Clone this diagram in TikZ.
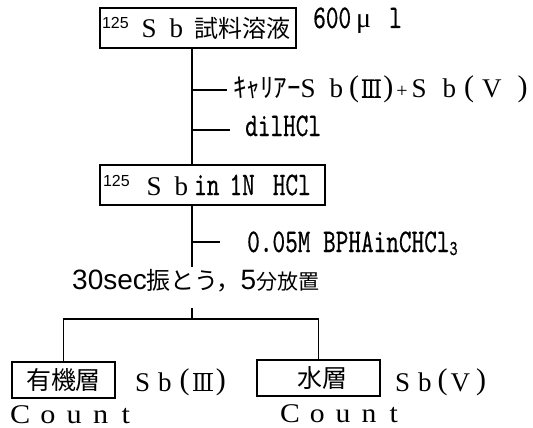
\documentclass[tikz,border=0pt]{standalone}
\usepackage{fontspec}
\setmainfont{Liberation Serif}
\setsansfont{Liberation Sans}
\newfontfamily\cjk{Noto Sans CJK JP}
\newfontfamily\tw[FakeBold=0.6]{lmmono10-regular.otf}
\newcommand\fsz[1]{\fontsize{#1}{#1}\selectfont}
\newcommand\twx[1]{\scalebox{0.73}[1]{\tw\fsz{33}#1}}
\newcommand\isosup{\raisebox{9pt}{\sffamily\fsz{16}125}}
\newcommand\romIII{\rlap{\hspace{0.4pt}\rule{19.4pt}{1.1pt}}\rlap{\hspace{0.4pt}\rule[16.8pt]{19.4pt}{1.1pt}}\scalebox{0.85}[1]{I\kern-1.6pt I\kern-1.6pt I}}
\newcommand\lpar{\raisebox{1.5pt}{\fsz{30}(}}
\newcommand\rpar{\raisebox{1.5pt}{\fsz{30})}}
\begin{document}
\begin{tikzpicture}[x=1pt,y=-1pt,
  box/.style={draw, line width=1.3pt, inner ysep=0pt},
  ln/.style={line width=1.3pt},
  lbl/.style={inner sep=0pt, anchor=base west}]
\useasboundingbox (0,0) rectangle (533,428);
\coordinate (spine) at (192,0);

% boxes
\node[box, inner xsep=2pt, text width=192pt, align=left, minimum height=40pt] (b1) at (198,28)
  {\isosup\hspace{13pt}{\fsz{27}S\hspace{13pt}b}\hspace{11pt}{\cjk\fsz{24}試料溶液}};
\node[box, inner xsep=3pt, text width=219pt, align=left, minimum height=40pt] (b2) at (212.5,185)
  {\isosup\hspace{17pt}{\fsz{27}S\hspace{13pt}b}\hspace{6pt}\twx{in}\hspace{10pt}\twx{1N}\hspace{18pt}\twx{HCl}};
\node[box, inner xsep=0pt, minimum width=103pt, minimum height=36pt] (b3) at (63.5,380)
  {\cjk\fsz{25}有機層};
\node[box, inner xsep=0pt, minimum width=123pt, minimum height=36pt] (b4) at (318.5,378)
  {\hspace{8pt}\cjk\fsz{25}水層};

% labels
\node[lbl] (t600) at (313,28) {\twx{600}\hspace{5pt}{\fsz{28}μ}\hspace{18pt}\twx{l}};
\node[lbl] (tcar) at (233,98) {{\cjk\fsz{27}ｷｬﾘｱｰ}{\fsz{27}S\hspace{14pt}b\hspace{6pt}\lpar\hspace{2pt}\romIII\hspace{2pt}\rpar\hspace{3pt}{\fsz{20}+}\hspace{4pt}S\hspace{16pt}b\hspace{8pt}\lpar\hspace{8pt}V\hspace{16pt}\rpar}};
\node[lbl] (tdil) at (245,136) {\twx{dilHCl}};
\node[lbl] (tbph) at (247,252) {\twx{0.05M BPHAinCHCl}\raisebox{-3pt}{\scalebox{0.73}[1]{\tw\fsz{21}3}}};
\node[lbl] (t30) at (72,289) {{\sffamily\fsz{28}30sec}{\cjk\fsz{24}振とう，}{\sffamily\fsz{28}5}{\cjk\fsz{21}分放置}};
\node[lbl] (s3) at (135,391) {\fsz{27}S\hspace{8pt}b\hspace{8pt}\lpar\hspace{3pt}\romIII\hspace{3pt}\rpar};
\node[lbl] (s5) at (395,391) {\fsz{27}S\hspace{8pt}b\hspace{6pt}\lpar\hspace{3pt}V\hspace{6pt}\rpar};
\node[lbl] (c1) at (10,423) {\scalebox{1.12}[1]{\fsz{27}C\hspace{9pt}o\hspace{10pt}u\hspace{10pt}n\hspace{12pt}t}};
\node[lbl] (c2) at (280,422) {\scalebox{1.1}[1]{\fsz{27}C\hspace{9pt}o\hspace{10pt}u\hspace{10pt}n\hspace{12pt}t}};

% connector coordinates
\coordinate (e1) at (227,90);
\coordinate (e2) at (230,130);
\coordinate (e3) at (220,242);
\coordinate (a30) at (192,267);
\coordinate (j0) at (192,308);
\coordinate (j) at (192,319);

% connectors
\draw[ln] (b1.south -| spine) -- (b2.north -| spine);
\draw[ln] (spine |- e1) -- (e1);
\draw[ln] (spine |- e2) -- (e2);
\draw[ln] (b2.south -| spine) -- (a30);
\draw[ln] (spine |- e3) -- (e3);
\draw[ln] (j0) -- (j);
\draw[ln] (b3.north) |- (j) -| (b4.north);
\end{tikzpicture}
\end{document}
